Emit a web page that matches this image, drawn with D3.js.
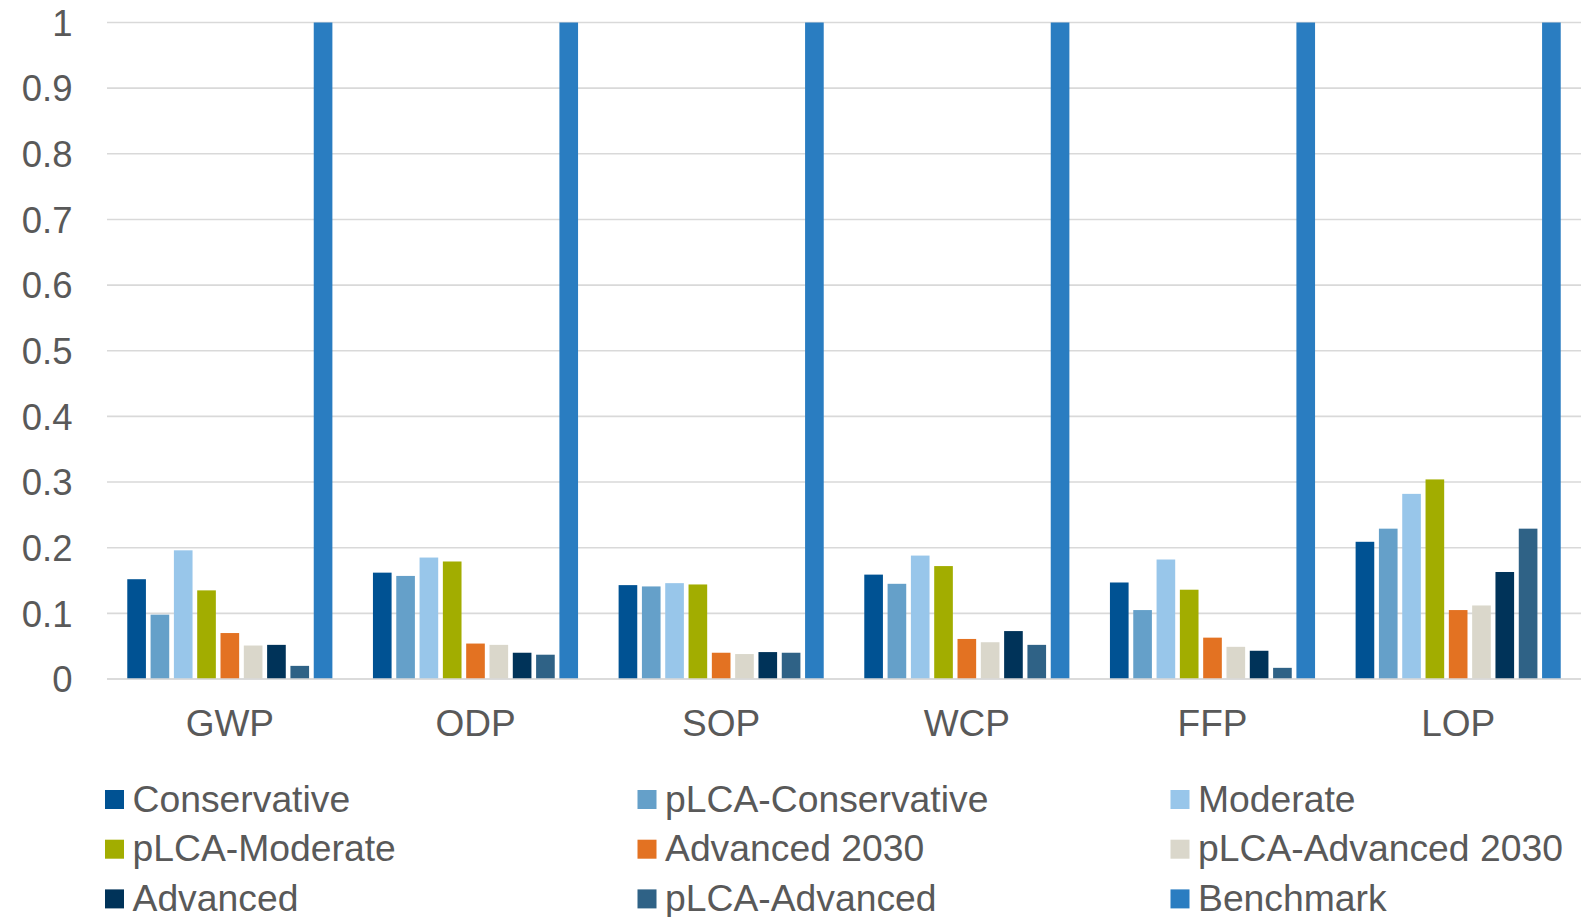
<!DOCTYPE html>
<html>
<head>
<meta charset="utf-8">
<script src="https://cdn.jsdelivr.net/npm/d3@7/dist/d3.min.js"></script>
<style>
  html, body { margin: 0; padding: 0; background: #ffffff; }
  svg { display: block; font-family: "Liberation Sans", Arial, sans-serif; }
</style>
</head>
<body>
<svg id="chart" width="1589" height="917"></svg>
<script>
// Impact categories on the x axis
const categories = ["GWP", "ODP", "SOP", "WCP", "FFP", "LOP"];

// Scenario names, in bar order within each category
const seriesNames = [
  "Conservative", "pLCA-Conservative", "Moderate",
  "pLCA-Moderate", "Advanced 2030", "pLCA-Advanced 2030",
  "Advanced", "pLCA-Advanced", "Benchmark"
];

// Normalised impact per scenario (one value per category)
const conservative     = [0.152, 0.162, 0.143, 0.159, 0.147, 0.209];
const pLCAConservative = [0.098, 0.157, 0.141, 0.145, 0.105, 0.229];
const moderate         = [0.196, 0.185, 0.146, 0.188, 0.182, 0.282];
const pLCAModerate     = [0.135, 0.179, 0.144, 0.172, 0.136, 0.304];
const advanced2030     = [0.070, 0.054, 0.040, 0.061, 0.063, 0.105];
const pLCAAdvanced2030 = [0.051, 0.052, 0.038, 0.056, 0.049, 0.112];
const advanced         = [0.052, 0.040, 0.041, 0.073, 0.043, 0.163];
const pLCAAdvanced     = [0.020, 0.037, 0.040, 0.052, 0.017, 0.229];
const benchmark        = [1, 1, 1, 1, 1, 1];

const seriesValues = [
  conservative, pLCAConservative, moderate, pLCAModerate,
  advanced2030, pLCAAdvanced2030, advanced, pLCAAdvanced, benchmark
];

const seriesColors = [
  "#005293", "#65A0C9", "#98C6EA", "#A2AD00", "#E37222",
  "#DAD7CB", "#003359", "#2F6286", "#2A7DC1"
];

const yTicks = [0, 0.1, 0.2, 0.3, 0.4, 0.5, 0.6, 0.7, 0.8, 0.9, 1];

const svg = d3.select("#chart");
const plotLeft = 107, plotRight = 1581, plotTop = 22.5, plotBottom = 679;
const textColor = "#595959";
const fontSize = 36.5;

const y = d3.scaleLinear().domain([0, 1]).range([plotBottom, plotTop]);
const x0 = d3.scaleBand().domain(categories).range([plotLeft, plotRight]).padding(0);
const x1 = d3.scaleBand().domain(seriesNames).range([0, x0.bandwidth()])
  .paddingInner(0.2).paddingOuter(0.87);

// Horizontal gridlines
svg.append("g").selectAll("line").data(yTicks).join("line")
  .attr("x1", plotLeft).attr("x2", plotRight)
  .attr("y1", d => y(d)).attr("y2", d => y(d))
  .attr("stroke", "#D9D9D9").attr("stroke-width", 1.6);

// Y axis labels
const yAxis = d3.axisLeft(y).tickValues(yTicks).tickSize(0).tickPadding(0)
  .tickFormat(d => d3.format("")(+d.toFixed(1)));
svg.append("g").attr("transform", `translate(${72.5},0)`).call(yAxis)
  .call(g => g.select(".domain").remove())
  .call(g => g.selectAll("text")
    .attr("fill", textColor).attr("font-size", fontSize)
    .attr("font-family", "Liberation Sans, Arial, sans-serif")
    .attr("dy", "0.35em"));

// Bars
const groups = svg.append("g").selectAll("g").data(categories).join("g")
  .attr("transform", d => `translate(${x0(d)},0)`);
groups.selectAll("rect")
  .data((c, ci) => seriesNames.map((s, si) => ({ s, si, v: seriesValues[si][ci] })))
  .join("rect")
  .attr("x", d => x1(d.s))
  .attr("width", x1.bandwidth())
  .attr("y", d => y(d.v))
  .attr("height", d => y(0) - y(d.v))
  .attr("fill", d => seriesColors[d.si]);

// Baseline drawn over the bars' feet
svg.append("line")
  .attr("x1", plotLeft).attr("x2", plotRight)
  .attr("y1", y(0)).attr("y2", y(0))
  .attr("stroke", "#D9D9D9").attr("stroke-width", 1.6);

// Category labels
const xAxis = d3.axisBottom(x0).tickSize(0).tickPadding(0);
svg.append("g").attr("transform", `translate(0,${735.5})`).call(xAxis)
  .call(g => g.select(".domain").remove())
  .call(g => g.selectAll("text")
    .attr("fill", textColor).attr("font-size", 37)
    .attr("font-family", "Liberation Sans, Arial, sans-serif")
    .attr("y", 0).attr("dy", 0));

// Legend: three columns, three rows
const legendX = [105, 637.5, 1170.5];
const legendY = [790, 839.7, 889.4];
const legend = svg.append("g").selectAll("g").data(seriesNames).join("g")
  .attr("transform", (d, i) => `translate(${legendX[i % 3]},${legendY[Math.floor(i / 3)]})`);
legend.append("rect")
  .attr("width", 19).attr("height", 19)
  .attr("fill", (d, i) => seriesColors[i]);
legend.append("text")
  .attr("x", 27.5).attr("y", 21.7)
  .attr("fill", textColor).attr("font-size", 37.3)
  .text(d => d);
</script>
</body>
</html>
